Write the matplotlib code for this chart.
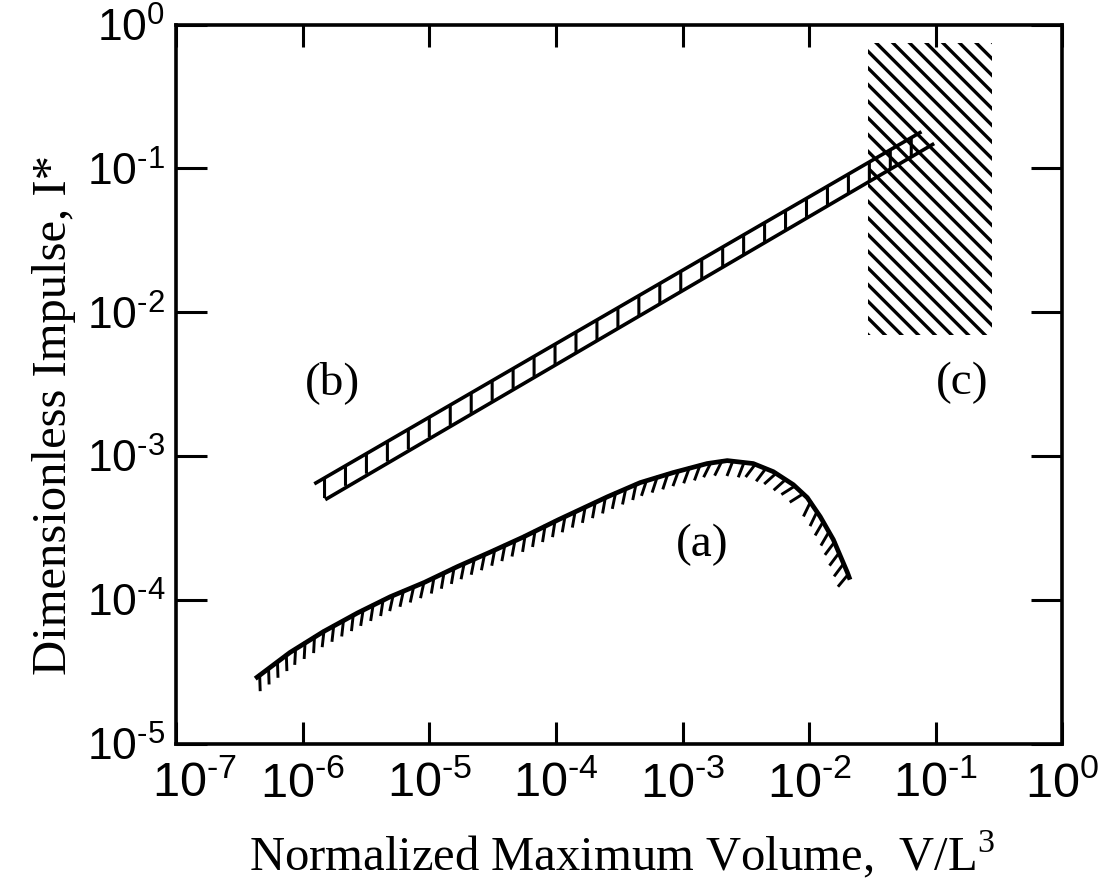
import numpy as np
import matplotlib
matplotlib.use('Agg')
import matplotlib.pyplot as plt
import matplotlib.patheffects as pe
import matplotlib.transforms as mtransforms

plt.rcParams['mathtext.fontset'] = 'custom'
plt.rcParams['mathtext.rm'] = 'Liberation Sans'
plt.rcParams['mathtext.it'] = 'Liberation Sans:italic'
plt.rcParams['hatch.linewidth'] = 2.4

# curve (a): lower hatched curve
a_x = [4.2e-7, 7.9e-7, 1.45e-6, 2.7e-6, 4.9e-6, 9.1e-6, 1.66e-5, 3.07e-5,
       5.5e-5, 1.04e-4, 2.54e-4, 4.62e-4, 8.43e-4, 1.56e-3,
       2.25e-3, 3.61e-3, 5.2e-3, 7.48e-3, 9.64e-3, 1.22e-2, 1.55e-2,
       2.0e-2, 2.1e-2]
a_y = [2.83e-5, 4.3e-5, 6.0e-5, 8.1e-5, 1.05e-4, 1.32e-4, 1.70e-4, 2.16e-4,
       2.73e-4, 3.6e-4, 5.2e-4, 6.53e-4, 7.67e-4, 8.86e-4,
       9.29e-4, 8.86e-4, 7.78e-4, 6.32e-4, 5.14e-4, 3.79e-4, 2.62e-4,
       1.55e-4, 1.38e-4]

# band (b): two parallel straight lines
b_upper_x = [1.23e-6, 0.077]
b_upper_y = [6.4e-4, 0.18]
b_lower_x = [1.5e-6, 0.097]
b_lower_y = [4.97e-4, 0.149]

# region (c): hatched box
c_x = [0.0292, 0.279]
c_y = [6.98e-3, 0.75]

# labels
labels = ['(a)', '(b)', '(c)']
label_x = [1.43e-3, 1.7e-6, 0.162]
label_y = [2.42e-4, 3.24e-3, 3.24e-3]

x_ticks = [1e-7, 1e-6, 1e-5, 1e-4, 1e-3, 1e-2, 1e-1, 1e0]
y_ticks = [1e-5, 1e-4, 1e-3, 1e-2, 1e-1, 1e0]
x_exps = ['-7', '-6', '-5', '-4', '-3', '-2', '-1', '0']
y_exps = ['-5', '-4', '-3', '-2', '-1', '0']

fig = plt.figure(figsize=(11.09, 8.81), dpi=100)
ax = fig.add_axes([0.159, 0.156, 0.799, 0.816])
ax.set_xscale('log')
ax.set_yscale('log')
ax.set_xlim(1e-7, 1e0)
ax.set_ylim(1e-5, 1e0)

# (c) hatched region
ax.fill_between(c_x, c_y[0], c_y[1], facecolor='none', edgecolor='black',
                hatch='\\\\', linewidth=0)

# (b) band
ax.plot(b_upper_x, b_upper_y, color='black', lw=2.6, solid_capstyle='butt',
        path_effects=[pe.withTickedStroke(angle=-120, spacing=17, length=0.85,
                                          linewidth=2.2)])
ax.plot(b_lower_x, b_lower_y, color='black', lw=2.6, solid_capstyle='butt')

# (a) curve, tick marks hang below it (angle changes over the hump)
ax.plot(a_x, a_y, color='black', lw=3.4, solid_capstyle='butt')
i1, i2 = 14, 18
for sl, ang in [(slice(0, i1 + 1), -125), (slice(i1, i2 + 1), -105),
                (slice(i2, None), -60)]:
    ax.plot(a_x[sl], a_y[sl], color='none',
            path_effects=[pe.TickedStroke(angle=ang, spacing=8, length=1.3,
                                          linewidth=2.1, foreground='black')])

for t, x, y in zip(labels, label_x, label_y):
    ax.text(x, y, t, fontsize=34, family='Liberation Serif',
            ha='center', va='center')

ax.set_xticks(x_ticks)
ax.set_xticklabels([r'$10^{\text{%s}}$' % e for e in x_exps])
ax.set_yticks(y_ticks)
ax.set_yticklabels([r'$10^{\text{%s}}$' % e for e in y_exps])
ax.minorticks_off()
ax.tick_params(axis='x', which='major', direction='in', length=16, width=2.2,
               labelsize=35, pad=11, top=True)
ax.tick_params(axis='y', which='major', direction='in', length=22, width=2.2,
               labelsize=32, pad=8, right=True)
for s in ax.spines.values():
    s.set_linewidth(2.6)

# first x label is nudged right, clear of the 10^-5 label
lab0 = ax.get_xticklabels()[0]
lab0.set_transform(lab0.get_transform() +
                   mtransforms.ScaledTranslation(0.18, 0, fig.dpi_scale_trans))

ax.set_xlabel(r'Normalized Maximum Volume,  V/L$^{\mathregular{3}}$',
              fontsize=35, family='Liberation Serif')
ax.set_ylabel('Dimensionless Impulse, I*', fontsize=35,
              family='Liberation Serif')
ax.xaxis.set_label_coords(0.503, -0.118)
ax.yaxis.set_label_coords(-0.113, 0.457)

fig.savefig('out.png', dpi=100)
